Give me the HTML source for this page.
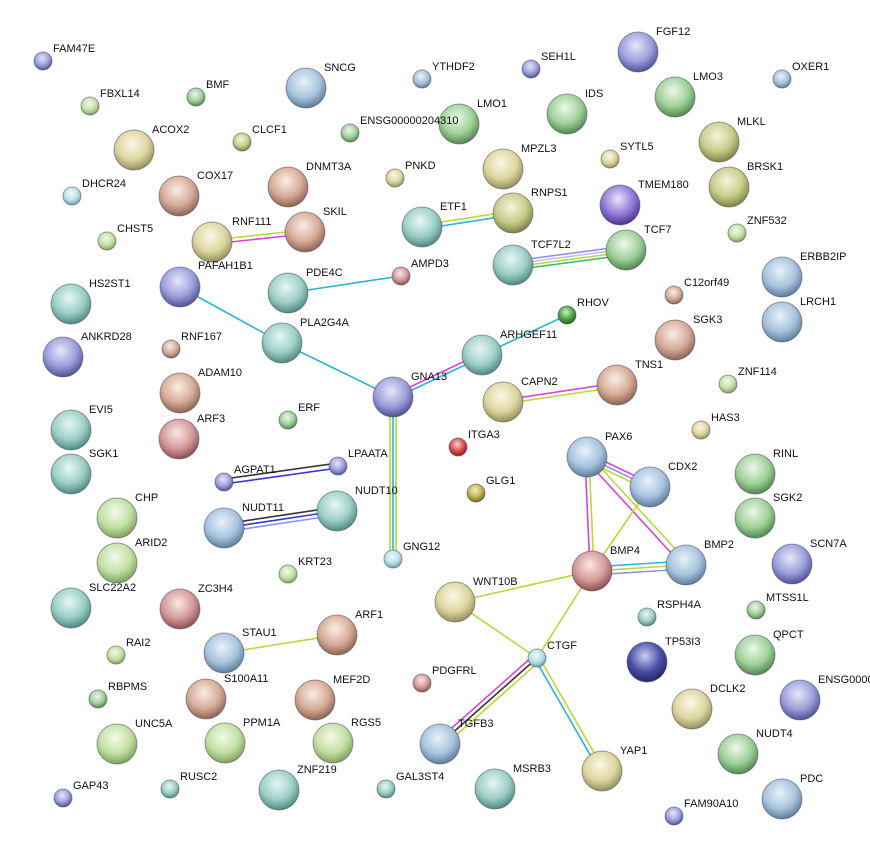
<!DOCTYPE html>
<html><head><meta charset="utf-8"><style>
html,body{margin:0;padding:0;background:#fff;width:870px;height:862px;overflow:hidden}
text{font-family:"Liberation Sans",sans-serif;font-size:11px;fill:#111}
circle{stroke-width:1}
</style></head><body>
<svg width="870" height="862" xmlns="http://www.w3.org/2000/svg">
<defs>
<radialGradient id="bl" cx="45%" cy="35%" r="65%"><stop offset="0" stop-color="#e8f2fb"/><stop offset=".6" stop-color="#a9c4de"/><stop offset="1" stop-color="#5d7e9e"/></radialGradient>
<radialGradient id="pb" cx="45%" cy="35%" r="65%"><stop offset="0" stop-color="#e6e6fa"/><stop offset=".6" stop-color="#9c9fdc"/><stop offset="1" stop-color="#4f5393"/></radialGradient>
<radialGradient id="gr" cx="45%" cy="35%" r="65%"><stop offset="0" stop-color="#eef8ea"/><stop offset=".6" stop-color="#9fd19a"/><stop offset="1" stop-color="#538850"/></radialGradient>
<radialGradient id="lg" cx="45%" cy="35%" r="65%"><stop offset="0" stop-color="#f4faea"/><stop offset=".6" stop-color="#c3e0a4"/><stop offset="1" stop-color="#7ea35c"/></radialGradient>
<radialGradient id="ye" cx="45%" cy="35%" r="65%"><stop offset="0" stop-color="#fbf8e6"/><stop offset=".6" stop-color="#ddd6a0"/><stop offset="1" stop-color="#95905a"/></radialGradient>
<radialGradient id="ol" cx="45%" cy="35%" r="65%"><stop offset="0" stop-color="#f6f6dc"/><stop offset=".6" stop-color="#c8cc8a"/><stop offset="1" stop-color="#7e8346"/></radialGradient>
<radialGradient id="br" cx="45%" cy="35%" r="65%"><stop offset="0" stop-color="#fbeee6"/><stop offset=".6" stop-color="#d6ab98"/><stop offset="1" stop-color="#8e6352"/></radialGradient>
<radialGradient id="rd" cx="45%" cy="35%" r="65%"><stop offset="0" stop-color="#fbe6e6"/><stop offset=".6" stop-color="#d49a9a"/><stop offset="1" stop-color="#8c5050"/></radialGradient>
<radialGradient id="tl" cx="45%" cy="35%" r="65%"><stop offset="0" stop-color="#e8f7f4"/><stop offset=".6" stop-color="#9ccfc6"/><stop offset="1" stop-color="#4f8a80"/></radialGradient>
<radialGradient id="cy" cx="45%" cy="35%" r="65%"><stop offset="0" stop-color="#f0fbfc"/><stop offset=".6" stop-color="#b8e0e6"/><stop offset="1" stop-color="#6ea1aa"/></radialGradient>
<radialGradient id="pu" cx="45%" cy="35%" r="65%"><stop offset="0" stop-color="#ece4fa"/><stop offset=".6" stop-color="#8f78d8"/><stop offset="1" stop-color="#4a3592"/></radialGradient>
<radialGradient id="nv" cx="45%" cy="35%" r="65%"><stop offset="0" stop-color="#c8ccf0"/><stop offset=".6" stop-color="#4a4fa8"/><stop offset="1" stop-color="#23276a"/></radialGradient>
<radialGradient id="dg" cx="45%" cy="35%" r="65%"><stop offset="0" stop-color="#cfeec8"/><stop offset=".6" stop-color="#4da345"/><stop offset="1" stop-color="#25621f"/></radialGradient>
<radialGradient id="rr" cx="45%" cy="35%" r="65%"><stop offset="0" stop-color="#fcd0d0"/><stop offset=".6" stop-color="#d84a4a"/><stop offset="1" stop-color="#8a1e1e"/></radialGradient>
<radialGradient id="go" cx="45%" cy="35%" r="65%"><stop offset="0" stop-color="#f5f0c8"/><stop offset=".6" stop-color="#bfb04a"/><stop offset="1" stop-color="#756920"/></radialGradient>
</defs>
<g fill="none" stroke-width="1.6">
<line x1="180" y1="287" x2="282" y2="343" stroke="#27b5d6"/>
<line x1="282" y1="343" x2="393" y2="397" stroke="#27b5d6"/>
<line x1="288" y1="293" x2="401" y2="276" stroke="#27b5d6"/>
<line x1="212" y1="240" x2="305" y2="230" stroke="#b8d936"/><line x1="212" y1="244" x2="305" y2="234" stroke="#e040d8"/>
<line x1="422" y1="225" x2="513" y2="211" stroke="#b8d936"/><line x1="422" y1="229" x2="513" y2="215" stroke="#27b5d6"/>
<line x1="513" y1="261" x2="626" y2="246" stroke="#9090ee"/><line x1="513" y1="264" x2="626" y2="249" stroke="#c0c0f0"/><line x1="513" y1="267" x2="626" y2="252" stroke="#b8d936"/><line x1="513" y1="270" x2="626" y2="255" stroke="#3cb37a"/>
<line x1="393" y1="395" x2="482" y2="353" stroke="#e040d8"/><line x1="393" y1="399" x2="482" y2="357" stroke="#27b5d6"/>
<line x1="482" y1="355" x2="567" y2="315" stroke="#27b5d6"/>
<line x1="390" y1="397" x2="390" y2="559" stroke="#b8d936"/><line x1="393" y1="397" x2="393" y2="559" stroke="#27b5d6"/><line x1="396" y1="397" x2="396" y2="559" stroke="#b8d936"/>
<line x1="503" y1="400" x2="617" y2="383" stroke="#e040d8"/><line x1="503" y1="404" x2="617" y2="387" stroke="#b8d936"/>
<line x1="224" y1="479" x2="338" y2="463" stroke="#333"/><line x1="224" y1="484" x2="338" y2="468" stroke="#3434e0"/>
<line x1="224" y1="524" x2="337" y2="507" stroke="#333"/><line x1="224" y1="528" x2="337" y2="511" stroke="#3434e0"/><line x1="224" y1="532" x2="337" y2="515" stroke="#9090ee"/>
<line x1="585" y1="457" x2="590" y2="571" stroke="#e040d8"/><line x1="589" y1="457" x2="594" y2="571" stroke="#b8d936"/>
<line x1="587" y1="453" x2="650" y2="483" stroke="#e040d8"/><line x1="587" y1="457" x2="650" y2="487" stroke="#9090ee"/><line x1="587" y1="461" x2="650" y2="491" stroke="#b8d936"/>
<line x1="585" y1="459" x2="684" y2="567" stroke="#e040d8"/><line x1="590" y1="456" x2="689" y2="564" stroke="#b8d936"/>
<line x1="650" y1="487" x2="592" y2="571" stroke="#b8d936"/>
<line x1="592" y1="567" x2="686" y2="561" stroke="#27b5d6"/><line x1="592" y1="571" x2="686" y2="565" stroke="#b8d936"/><line x1="592" y1="575" x2="686" y2="569" stroke="#9090ee"/>
<line x1="455" y1="602" x2="592" y2="571" stroke="#b8d936"/>
<line x1="455" y1="602" x2="537" y2="658" stroke="#b8d936"/>
<line x1="592" y1="571" x2="537" y2="658" stroke="#b8d936"/>
<line x1="533" y1="656" x2="436" y2="742" stroke="#e040d8"/><line x1="537" y1="658" x2="440" y2="744" stroke="#333"/><line x1="541" y1="660" x2="444" y2="746" stroke="#b8d936"/>
<line x1="535" y1="659" x2="600" y2="772" stroke="#27b5d6"/><line x1="539" y1="657" x2="604" y2="770" stroke="#b8d936"/>
<line x1="224" y1="653" x2="337" y2="635" stroke="#b8d936"/>
</g>
<g stroke-opacity=".5" stroke="#445">
<circle cx="43" cy="61" r="9" fill="url(#pb)"/><circle cx="90" cy="106" r="9" fill="url(#lg)"/><circle cx="196" cy="97" r="9" fill="url(#gr)"/><circle cx="306" cy="88" r="20" fill="url(#bl)"/><circle cx="422" cy="79" r="9" fill="url(#bl)"/><circle cx="531" cy="69" r="9" fill="url(#pb)"/><circle cx="638" cy="52" r="20" fill="url(#pb)"/><circle cx="675" cy="97" r="20" fill="url(#gr)"/><circle cx="782" cy="79" r="9" fill="url(#bl)"/>
<circle cx="134" cy="150" r="20" fill="url(#ye)"/><circle cx="242" cy="142" r="9" fill="url(#ol)"/><circle cx="350" cy="133" r="9" fill="url(#gr)"/><circle cx="459" cy="124" r="20" fill="url(#gr)"/><circle cx="567" cy="114" r="20" fill="url(#gr)"/><circle cx="719" cy="142" r="20" fill="url(#ol)"/><circle cx="503" cy="169" r="20" fill="url(#ye)"/><circle cx="610" cy="159" r="9" fill="url(#ye)"/>
<circle cx="72" cy="196" r="9" fill="url(#cy)"/><circle cx="179" cy="196" r="20" fill="url(#br)"/><circle cx="288" cy="187" r="20" fill="url(#br)"/><circle cx="395" cy="178" r="9" fill="url(#ye)"/><circle cx="729" cy="187" r="20" fill="url(#ol)"/><circle cx="620" cy="205" r="20" fill="url(#pu)"/>
<circle cx="422" cy="227" r="20" fill="url(#tl)"/><circle cx="513" cy="213" r="20" fill="url(#ol)"/><circle cx="737" cy="233" r="9" fill="url(#lg)"/><circle cx="107" cy="241" r="9" fill="url(#lg)"/><circle cx="212" cy="242" r="20" fill="url(#ye)"/><circle cx="305" cy="232" r="20" fill="url(#br)"/>
<circle cx="513" cy="265" r="20" fill="url(#tl)"/><circle cx="626" cy="250" r="20" fill="url(#gr)"/><circle cx="782" cy="277" r="20" fill="url(#bl)"/><circle cx="180" cy="287" r="20" fill="url(#pb)"/><circle cx="288" cy="293" r="20" fill="url(#tl)"/><circle cx="401" cy="276" r="9" fill="url(#rd)"/><circle cx="674" cy="295" r="9" fill="url(#br)"/>
<circle cx="71" cy="304" r="20" fill="url(#tl)"/><circle cx="782" cy="322" r="20" fill="url(#bl)"/><circle cx="567" cy="315" r="9" fill="url(#dg)"/><circle cx="282" cy="343" r="20" fill="url(#tl)"/><circle cx="675" cy="340" r="20" fill="url(#br)"/><circle cx="171" cy="349" r="9" fill="url(#br)"/>
<circle cx="482" cy="355" r="20" fill="url(#tl)"/><circle cx="63" cy="357" r="20" fill="url(#pb)"/><circle cx="180" cy="393" r="20" fill="url(#br)"/><circle cx="617" cy="385" r="20" fill="url(#br)"/><circle cx="728" cy="384" r="9" fill="url(#lg)"/>
<circle cx="393" cy="397" r="20" fill="url(#pb)"/><circle cx="503" cy="402" r="20" fill="url(#ye)"/><circle cx="71" cy="430" r="20" fill="url(#tl)"/><circle cx="179" cy="439" r="20" fill="url(#rd)"/><circle cx="288" cy="420" r="9" fill="url(#gr)"/><circle cx="701" cy="430" r="9" fill="url(#ye)"/><circle cx="458" cy="447" r="9" fill="url(#rr)"/>
<circle cx="587" cy="457" r="20" fill="url(#bl)"/><circle cx="650" cy="487" r="20" fill="url(#bl)"/><circle cx="755" cy="474" r="20" fill="url(#gr)"/><circle cx="71" cy="474" r="20" fill="url(#tl)"/><circle cx="224" cy="482" r="9" fill="url(#pb)"/><circle cx="338" cy="466" r="9" fill="url(#pb)"/><circle cx="476" cy="493" r="9" fill="url(#go)"/>
<circle cx="117" cy="518" r="20" fill="url(#lg)"/><circle cx="337" cy="511" r="20" fill="url(#tl)"/><circle cx="224" cy="528" r="20" fill="url(#bl)"/><circle cx="755" cy="518" r="20" fill="url(#gr)"/><circle cx="117" cy="563" r="20" fill="url(#lg)"/><circle cx="393" cy="559" r="9" fill="url(#cy)"/>
<circle cx="592" cy="571" r="20" fill="url(#rd)"/><circle cx="686" cy="565" r="20" fill="url(#bl)"/><circle cx="792" cy="564" r="20" fill="url(#pb)"/><circle cx="288" cy="574" r="9" fill="url(#lg)"/><circle cx="455" cy="602" r="20" fill="url(#ye)"/><circle cx="71" cy="608" r="20" fill="url(#tl)"/><circle cx="180" cy="609" r="20" fill="url(#rd)"/>
<circle cx="647" cy="617" r="9" fill="url(#tl)"/><circle cx="756" cy="610" r="9" fill="url(#gr)"/><circle cx="337" cy="635" r="20" fill="url(#br)"/><circle cx="224" cy="653" r="20" fill="url(#bl)"/><circle cx="116" cy="655" r="9" fill="url(#lg)"/><circle cx="537" cy="658" r="9" fill="url(#cy)"/><circle cx="647" cy="662" r="20" fill="url(#nv)"/><circle cx="755" cy="655" r="20" fill="url(#gr)"/>
<circle cx="422" cy="683" r="9" fill="url(#rd)"/><circle cx="206" cy="699" r="20" fill="url(#br)"/><circle cx="315" cy="700" r="20" fill="url(#br)"/><circle cx="98" cy="699" r="9" fill="url(#gr)"/><circle cx="800" cy="700" r="20" fill="url(#pb)"/><circle cx="692" cy="709" r="20" fill="url(#ye)"/>
<circle cx="117" cy="744" r="20" fill="url(#lg)"/><circle cx="225" cy="743" r="20" fill="url(#lg)"/><circle cx="333" cy="743" r="20" fill="url(#lg)"/><circle cx="440" cy="744" r="20" fill="url(#bl)"/><circle cx="602" cy="771" r="20" fill="url(#ye)"/><circle cx="738" cy="754" r="20" fill="url(#gr)"/>
<circle cx="170" cy="789" r="9" fill="url(#tl)"/><circle cx="279" cy="790" r="20" fill="url(#tl)"/><circle cx="386" cy="789" r="9" fill="url(#tl)"/><circle cx="495" cy="789" r="20" fill="url(#tl)"/><circle cx="782" cy="799" r="20" fill="url(#bl)"/><circle cx="63" cy="798" r="9" fill="url(#pb)"/><circle cx="674" cy="816" r="9" fill="url(#pb)"/>
</g>
<g>
<text x="53" y="52">FAM47E</text><text x="100" y="97">FBXL14</text><text x="206" y="88">BMF</text><text x="324" y="71">SNCG</text><text x="432" y="70">YTHDF2</text><text x="541" y="60">SEH1L</text><text x="656" y="35">FGF12</text><text x="693" y="80">LMO3</text><text x="792" y="70">OXER1</text>
<text x="152" y="133">ACOX2</text><text x="252" y="133">CLCF1</text><text x="360" y="124">ENSG00000204310</text><text x="477" y="107">LMO1</text><text x="585" y="97">IDS</text><text x="737" y="125">MLKL</text><text x="521" y="152">MPZL3</text><text x="620" y="150">SYTL5</text>
<text x="82" y="187">DHCR24</text><text x="197" y="179">COX17</text><text x="306" y="170">DNMT3A</text><text x="405" y="169">PNKD</text><text x="747" y="170">BRSK1</text><text x="638" y="188">TMEM180</text>
<text x="440" y="210">ETF1</text><text x="531" y="196">RNPS1</text><text x="747" y="224">ZNF532</text><text x="117" y="232">CHST5</text><text x="232" y="225">RNF111</text><text x="323" y="215">SKIL</text>
<text x="531" y="248">TCF7L2</text><text x="644" y="233">TCF7</text><text x="800" y="260">ERBB2IP</text><text x="198" y="269">PAFAH1B1</text><text x="306" y="276">PDE4C</text><text x="411" y="267">AMPD3</text><text x="684" y="286">C12orf49</text>
<text x="89" y="287">HS2ST1</text><text x="800" y="305">LRCH1</text><text x="577" y="306">RHOV</text><text x="300" y="326">PLA2G4A</text><text x="693" y="323">SGK3</text><text x="181" y="340">RNF167</text>
<text x="500" y="338">ARHGEF11</text><text x="81" y="340">ANKRD28</text><text x="198" y="376">ADAM10</text><text x="635" y="368">TNS1</text><text x="738" y="375">ZNF114</text>
<text x="411" y="380">GNA13</text><text x="521" y="385">CAPN2</text><text x="89" y="413">EVI5</text><text x="197" y="422">ARF3</text><text x="298" y="411">ERF</text><text x="711" y="421">HAS3</text><text x="468" y="438">ITGA3</text>
<text x="605" y="440">PAX6</text><text x="668" y="470">CDX2</text><text x="773" y="457">RINL</text><text x="89" y="457">SGK1</text><text x="234" y="473">AGPAT1</text><text x="348" y="457">LPAATA</text><text x="486" y="484">GLG1</text>
<text x="135" y="501">CHP</text><text x="355" y="494">NUDT10</text><text x="242" y="511">NUDT11</text><text x="773" y="501">SGK2</text><text x="135" y="546">ARID2</text><text x="403" y="550">GNG12</text>
<text x="610" y="554">BMP4</text><text x="704" y="548">BMP2</text><text x="810" y="547">SCN7A</text><text x="298" y="565">KRT23</text><text x="473" y="585">WNT10B</text><text x="89" y="591">SLC22A2</text><text x="198" y="592">ZC3H4</text>
<text x="657" y="608">RSPH4A</text><text x="766" y="601">MTSS1L</text><text x="355" y="618">ARF1</text><text x="242" y="636">STAU1</text><text x="126" y="646">RAI2</text><text x="547" y="649">CTGF</text><text x="665" y="645">TP53I3</text><text x="773" y="638">QPCT</text>
<text x="432" y="674">PDGFRL</text><text x="224" y="682">S100A11</text><text x="333" y="683">MEF2D</text><text x="108" y="690">RBPMS</text><text x="818" y="683">ENSG0000</text><text x="710" y="692">DCLK2</text>
<text x="135" y="727">UNC5A</text><text x="243" y="726">PPM1A</text><text x="351" y="726">RGS5</text><text x="458" y="727">TGFB3</text><text x="620" y="754">YAP1</text><text x="756" y="737">NUDT4</text>
<text x="180" y="780">RUSC2</text><text x="297" y="773">ZNF219</text><text x="396" y="780">GAL3ST4</text><text x="513" y="772">MSRB3</text><text x="800" y="782">PDC</text><text x="73" y="789">GAP43</text><text x="684" y="807">FAM90A10</text>
</g>
</svg>
</body></html>
